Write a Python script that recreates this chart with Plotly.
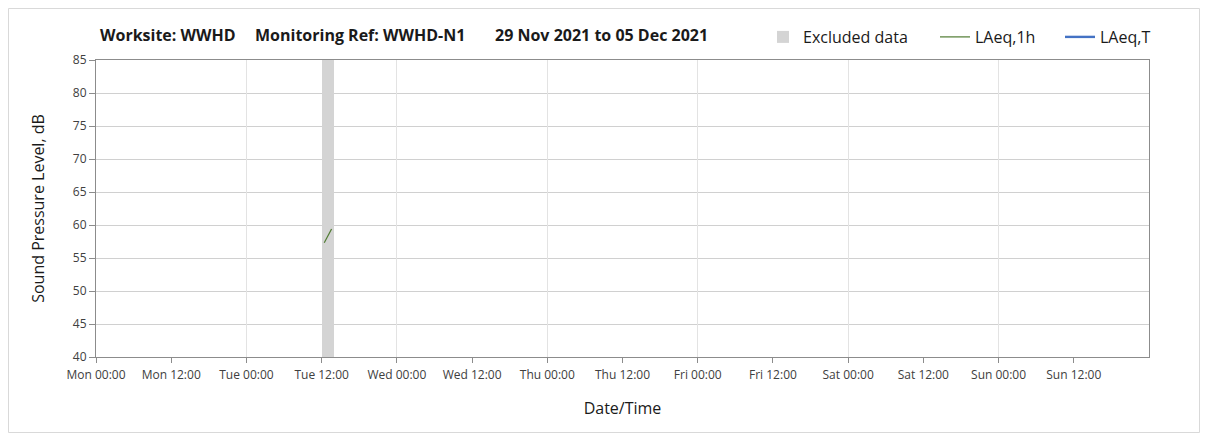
import pandas as pd
import plotly.graph_objects as go

# ---- data ----
title_parts = ["Worksite: WWHD", "Monitoring Ref: WWHD-N1", "29 Nov 2021 to 05 Dec 2021"]
x_start = "2021-11-29 00:00"
x_end = "2021-12-06 00:00"
n_ticks = 14  # Mon 00:00 ... Sun 12:00 every 12 h
y_min, y_max = 40, 85

excluded_start = ["2021-11-30 12:00"]
excluded_end = ["2021-11-30 14:00"]

laeq_1h_time = ["2021-11-30 12:25", "2021-11-30 13:35"]
laeq_1h = [57.3, 59.4]

laeq_t_time = []
laeq_t = []

# ---- geometry (page has an 8px body margin) ----
W, H = 1200, 433
ML, MR, MT, MB = 88, 59, 52, 84
PW, PH = W - ML - MR, H - MT - MB


def px(x):  # figure px -> paper x
    return (x - ML) / PW


def py(y):  # figure px (from top) -> paper y
    return (H - MB - y) / PH


# ---- build ----
ex_s = pd.to_datetime(excluded_start)
ex_e = pd.to_datetime(excluded_end)
ex_mid = ex_s + (ex_e - ex_s) / 2
ex_w = [(e - s).total_seconds() * 1000 for s, e in zip(ex_s, ex_e)]

tick_vals = pd.date_range(x_start, periods=n_ticks, freq="12h")

font_family = "Open Sans, Lato, DejaVu Sans, sans-serif"
axis_col = "#8c8c8c"
text_col = "#404040"
dark = "#1a1a1a"

fig = go.Figure()
fig.add_trace(go.Bar(
    x=ex_mid, y=[y_max - y_min] * len(ex_mid), base=[y_min] * len(ex_mid),
    width=ex_w, marker=dict(color="#d4d4d4", line=dict(width=0)),
    name="Excluded data", legend="legend",
))
fig.add_trace(go.Scatter(
    x=pd.to_datetime(laeq_1h_time), y=laeq_1h, mode="lines",
    line=dict(color="#4e7a30", width=1.2), name="LAeq,1h", legend="legend2",
))
fig.add_trace(go.Scatter(
    x=pd.to_datetime(laeq_t_time) if laeq_t_time else [None],
    y=laeq_t if laeq_t else [None],
    mode="lines", line=dict(color="#4472c4", width=2.4), name="LAeq,T", legend="legend3",
))
# invisible helper trace carrying the day-gridline axis
fig.add_trace(go.Scatter(
    x=[pd.Timestamp(x_start)], y=[y_min], xaxis="x2", yaxis="y",
    mode="markers", marker=dict(opacity=0), showlegend=False, hoverinfo="skip",
))

leg_common = dict(orientation="h", yanchor="middle", xanchor="left",
                  font=dict(size=16, color=dark), bgcolor="rgba(0,0,0,0)",
                  borderwidth=0)

annotations = []
for part, xpos in zip(title_parts, [90, 245, 485]):
    annotations.append(dict(text=f"<b>{part}</b>", xref="paper", yref="paper",
                            x=px(xpos), y=py(27), xanchor="left", yanchor="middle",
                            showarrow=False, font=dict(size=16, color=dark)))

fig.update_layout(
    width=W, height=H,
    paper_bgcolor="white", plot_bgcolor="white",
    margin=dict(l=ML, r=MR, t=MT, b=MB),
    font=dict(family=font_family, color=text_col, size=12),
    showlegend=True,
    legend=dict(x=px(755), y=py(29), **leg_common),
    legend2=dict(x=px(927), y=py(29), **leg_common),
    legend3=dict(x=px(1052), y=py(29), **leg_common),
    bargap=0,
    annotations=annotations,
    xaxis=dict(
        type="date", range=[x_start, x_end], tickmode="array", tickvals=tick_vals,
        tickformat="%a %H:%M", showgrid=False,
        ticks="outside", ticklen=5, tickcolor=axis_col,
        showline=True, linecolor=axis_col, linewidth=1, mirror=True,
        tickfont=dict(size=12, color=text_col), ticklabelstandoff=2,
        title=dict(text="Date/Time", font=dict(size=16, color=dark), standoff=20),
        zeroline=False,
    ),
    xaxis2=dict(
        type="date", range=[x_start, x_end], dtick=24 * 3600 * 1000,
        tick0=x_start, overlaying="x", anchor="y", showticklabels=False,
        showgrid=True, gridcolor="#e3e3e3", gridwidth=1, ticks="", showline=False,
        zeroline=False, layer="below traces",
    ),
    yaxis=dict(
        range=[y_min, y_max], dtick=5, showgrid=True, gridcolor="#d0d0d0",
        ticks="outside", ticklen=6, tickcolor=axis_col,
        showline=True, linecolor=axis_col, linewidth=1, mirror=True,
        tickfont=dict(size=12, color=text_col),
        title=dict(text="Sound Pressure Level, dB", font=dict(size=16, color=dark), standoff=24),
        zeroline=False,
    ),
    shapes=[dict(type="rect", xref="paper", yref="paper",
                 x0=px(0.5), x1=px(1191.5), y0=py(424.5), y1=py(0.5),
                 line=dict(color="#d9d9d9", width=1), fillcolor="rgba(0,0,0,0)",
                 layer="below")],
)

fig.write_html("out.html")
